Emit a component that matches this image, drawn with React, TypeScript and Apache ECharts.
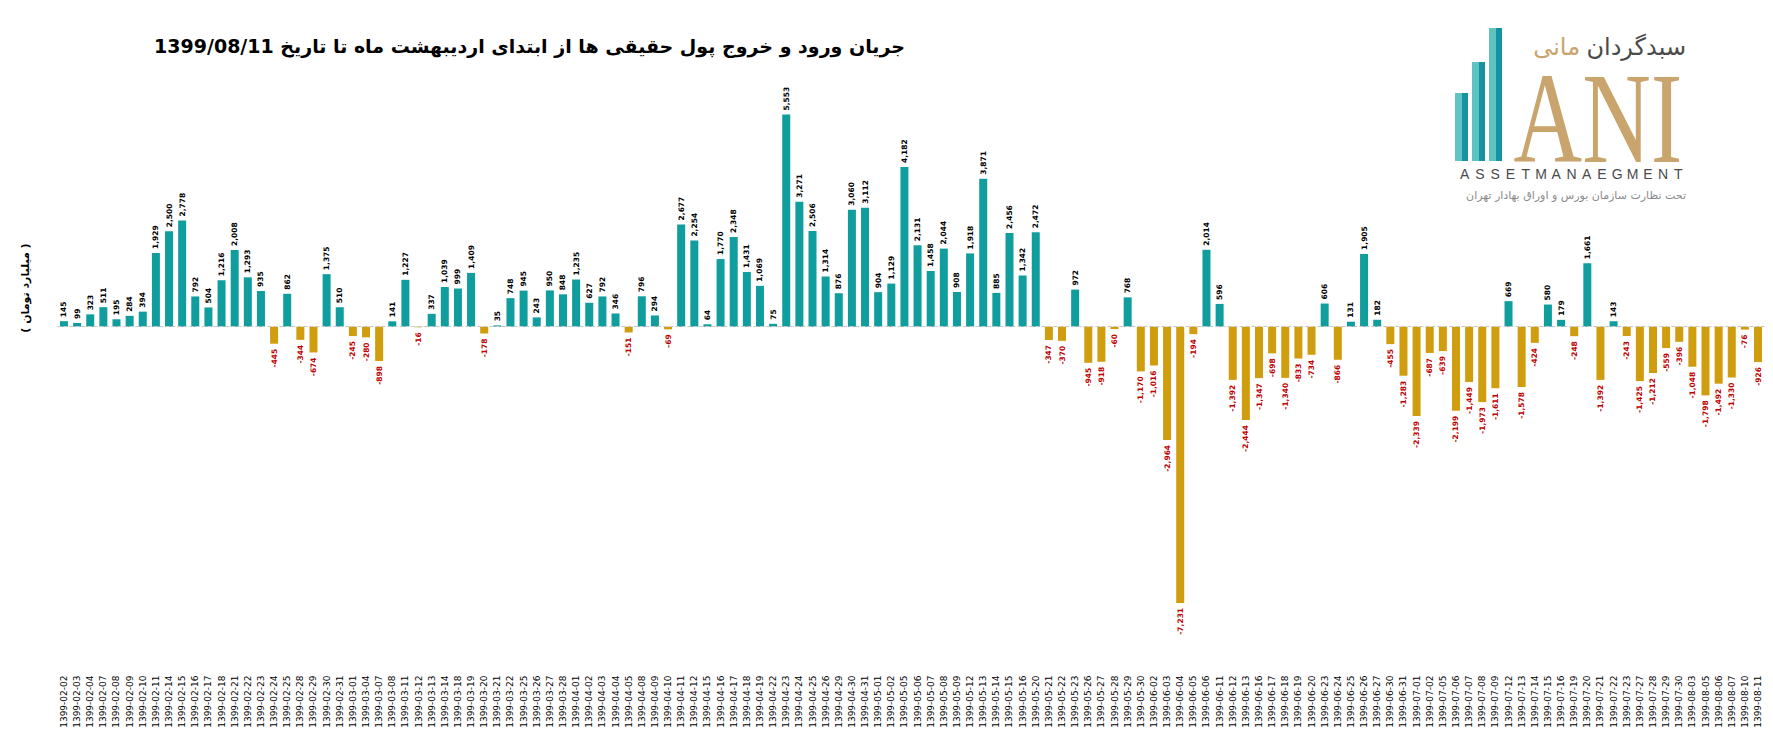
import React, { useEffect, useRef } from "react";
import * as echarts from "echarts";

const dates: string[] = [
  "1399-02-02","1399-02-03","1399-02-04","1399-02-07","1399-02-08","1399-02-09","1399-02-10","1399-02-11","1399-02-14","1399-02-15",
  "1399-02-16","1399-02-17","1399-02-18","1399-02-21","1399-02-22","1399-02-23","1399-02-24","1399-02-25","1399-02-28","1399-02-29",
  "1399-02-30","1399-02-31","1399-03-01","1399-03-04","1399-03-07","1399-03-08","1399-03-11","1399-03-12","1399-03-13","1399-03-14",
  "1399-03-18","1399-03-19","1399-03-20","1399-03-21","1399-03-22","1399-03-25","1399-03-26","1399-03-27","1399-03-28","1399-04-01",
  "1399-04-02","1399-04-03","1399-04-04","1399-04-05","1399-04-08","1399-04-09","1399-04-10","1399-04-11","1399-04-12","1399-04-15",
  "1399-04-16","1399-04-17","1399-04-18","1399-04-19","1399-04-22","1399-04-23","1399-04-24","1399-04-25","1399-04-26","1399-04-29",
  "1399-04-30","1399-04-31","1399-05-01","1399-05-02","1399-05-05","1399-05-06","1399-05-07","1399-05-08","1399-05-09","1399-05-12",
  "1399-05-13","1399-05-14","1399-05-15","1399-05-16","1399-05-20","1399-05-21","1399-05-22","1399-05-23","1399-05-26","1399-05-27",
  "1399-05-28","1399-05-29","1399-05-30","1399-06-02","1399-06-03","1399-06-04","1399-06-05","1399-06-06","1399-06-11","1399-06-12",
  "1399-06-13","1399-06-16","1399-06-17","1399-06-18","1399-06-19","1399-06-20","1399-06-23","1399-06-24","1399-06-25","1399-06-26",
  "1399-06-27","1399-06-30","1399-06-31","1399-07-01","1399-07-02","1399-07-05","1399-07-06","1399-07-07","1399-07-08","1399-07-09",
  "1399-07-12","1399-07-13","1399-07-14","1399-07-15","1399-07-16","1399-07-19","1399-07-20","1399-07-21","1399-07-22","1399-07-23",
  "1399-07-27","1399-07-28","1399-07-29","1399-07-30","1399-08-03","1399-08-05","1399-08-06","1399-08-07","1399-08-10","1399-08-11",
];

const flows: number[] = [
  145, 99, 323, 511, 195, 284, 394, 1929, 2500, 2778,
  792, 504, 1216, 2008, 1293, 935, -445, 862, -344, -674,
  1375, 510, -245, -280, -898, 141, 1227, -16, 337, 1039,
  999, 1409, -178, 35, 748, 945, 243, 950, 848, 1235,
  627, 792, 346, -151, 796, 294, -69, 2677, 2254, 64,
  1770, 2348, 1431, 1069, 75, 5553, 3271, 2506, 1314, 876,
  3060, 3112, 904, 1129, 4182, 2131, 1458, 2044, 908, 1918,
  3871, 885, 2456, 1342, 2472, -347, -370, 972, -945, -918,
  -60, 768, -1170, -1016, -2964, -7231, -194, 2014, 596, -1392,
  -2444, -1347, -698, -1340, -833, -734, 606, -866, 131, 1905,
  182, -455, -1283, -2339, -687, -639, -2199, -1449, -1973, -1611,
  669, -1578, -424, 580, 179, -248, 1661, -1392, 143, -243,
  -1425, -1212, -559, -396, -1048, -1798, -1492, -1330, -76, -926,
];

const titleText = "جریان ورود و خروج پول حقیقی ها از ابتدای اردیبهشت ماه تا تاریخ 1399/08/11";
const unitText = "( میلیارد تومان )";
const logoWord1 = "سبدگردان";
const logoWord2 = "مانی";
const logoLatin = "ASSETMANAEGMENT";
const logoSub = "تحت نظارت سازمان بورس و اوراق بهادار تهران";

const RLE = "\u202B";
const PDF = "\u202C";
const rtl = (s: string) => RLE + s + PDF;

const POS_COLOR = "#0f9e9d";
const NEG_COLOR = "#cf9d0d";

export default function App() {
  const ref = useRef<HTMLDivElement>(null);

  useEffect(() => {
    document.body.style.margin = "0";
    if (!ref.current) return;
    const chart = echarts.init(ref.current, undefined, { renderer: "svg" });

    const seriesData = flows.map((v) =>
      v >= 0
        ? {
            value: v,
            itemStyle: { color: POS_COLOR },
            label: {
              show: true,
              position: "top",
              rotate: 90,
              align: "left",
              verticalAlign: "middle",
              distance: 4,
              color: "#000",
            },
          }
        : {
            value: v,
            itemStyle: { color: NEG_COLOR },
            label: {
              show: true,
              position: "bottom",
              rotate: 90,
              align: "right",
              verticalAlign: "middle",
              distance: 5,
              color: "#c00000",
            },
          }
    );

    const latinStart = 1457;
    const latinEnd = 1686;
    const step = (latinEnd - latinStart) / logoLatin.length;
    const latinLetters = logoLatin.split("").map((ch, i) => ({
      type: "text",
      x: latinStart + step * (i + 0.5),
      y: 174,
      style: {
        text: ch,
        fill: "#4a4a4a",
        font: '14px "Liberation Sans"',
        textAlign: "center",
        textVerticalAlign: "middle",
      },
    }));

    const barsLogo = [
      { x: 1455, top: 93 },
      { x: 1472, top: 62 },
      { x: 1489, top: 28 },
    ];
    const logoBars: any[] = [];
    barsLogo.forEach((b) => {
      logoBars.push({
        type: "rect",
        shape: { x: b.x, y: b.top, width: 7, height: 161 - b.top },
        style: { fill: "#5fc3c3" },
      });
      logoBars.push({
        type: "rect",
        shape: { x: b.x + 7, y: b.top, width: 6, height: 161 - b.top },
        style: { fill: "#1593a0" },
      });
    });

    chart.setOption({
      animation: false,
      backgroundColor: "#fff",
      grid: { left: 57.4, right: 8.4, top: 97.5, bottom: 74.5, containLabel: false },
      xAxis: {
        type: "category",
        data: dates,
        axisLine: { show: false },
        axisTick: { show: false },
        axisLabel: {
          interval: 0,
          rotate: 90,
          fontSize: 9,
          fontFamily: "DejaVu Sans",
          color: "#000",
          margin: 5,
        },
      },
      yAxis: {
        type: "value",
        min: -9000,
        max: 6000,
        axisLabel: { show: false },
        axisLine: { show: false },
        axisTick: { show: false },
        splitLine: { show: false },
      },
      series: [
        {
          type: "bar",
          data: seriesData,
          barWidth: 8,
          label: {
            show: true,
            fontSize: 7.5,
            fontWeight: "bold",
            fontFamily: "DejaVu Sans",
            formatter: (p: any) => Number(p.value).toLocaleString("en-US"),
          },
          markLine: {
            silent: true,
            symbol: ["none", "none"],
            label: { show: false },
            lineStyle: { color: "#c8c8c8", type: "dashed", width: 1 },
            data: [{ yAxis: 0 }],
          },
        },
      ],
      graphic: [
        {
          type: "text",
          x: 905,
          y: 46,
          style: {
            text: rtl(titleText),
            fill: "#000",
            font: 'bold 19px "DejaVu Sans"',
            textAlign: "right",
            textVerticalAlign: "middle",
          },
        },
        {
          type: "text",
          x: 25,
          y: 288,
          rotation: Math.PI / 2,
          style: {
            text: rtl(unitText),
            fill: "#000",
            font: 'bold 11px "DejaVu Sans"',
            textAlign: "center",
            textVerticalAlign: "middle",
          },
        },
        ...logoBars,
        {
          type: "text",
          x: 1598,
          y: 118,
          scaleY: 1.35,
          style: {
            text: "ANI",
            fill: "#c9a46c",
            font: '95px "Liberation Serif"',
            textAlign: "center",
            textVerticalAlign: "middle",
          },
        },
        {
          type: "text",
          x: 1686,
          y: 47,
          style: {
            text: rtl(logoWord1),
            fill: "#4a4a4a",
            font: '24px "DejaVu Sans"',
            textAlign: "right",
            textVerticalAlign: "middle",
          },
        },
        {
          type: "text",
          x: 1580,
          y: 47,
          style: {
            text: rtl(logoWord2),
            fill: "#c9a46c",
            font: '24px "DejaVu Sans"',
            textAlign: "right",
            textVerticalAlign: "middle",
          },
        },
        ...latinLetters,
        {
          type: "text",
          x: 1686,
          y: 195,
          style: {
            text: rtl(logoSub),
            fill: "#8a8a8a",
            font: '11px "DejaVu Sans"',
            textAlign: "right",
            textVerticalAlign: "middle",
          },
        },
      ],
    });

    return () => chart.dispose();
  }, []);

  return <div ref={ref} style={{ width: 1773, height: 745 }} />;
}
